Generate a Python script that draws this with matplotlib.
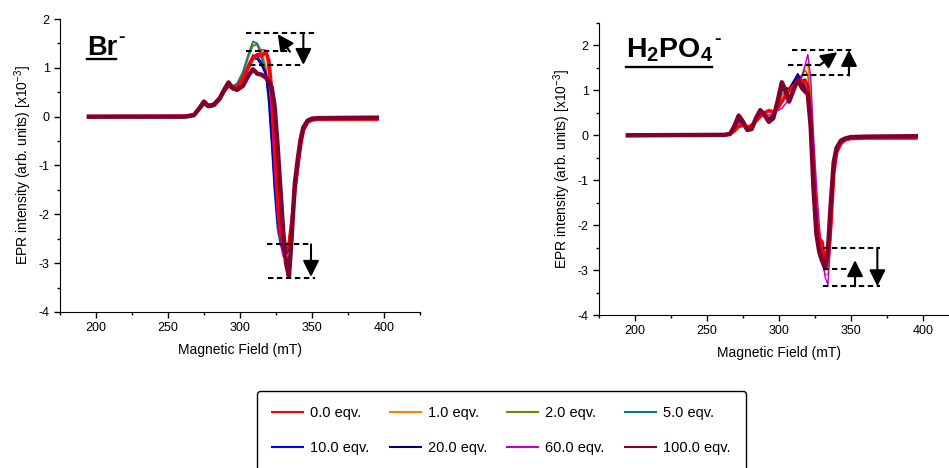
import matplotlib
matplotlib.use("Agg")
import matplotlib.pyplot as plt
from matplotlib.lines import Line2D
from matplotlib.ticker import MultipleLocator

plt.rcParams['font.family'] = ['Liberation Sans', 'DejaVu Sans']
plt.rcParams['mathtext.fontset'] = 'custom'
plt.rcParams['mathtext.rm'] = 'Liberation Sans'
plt.rcParams['mathtext.bf'] = 'Liberation Sans:bold'
plt.rcParams['axes.unicode_minus'] = False

# magnetic field grids (mT)
field_br = [195, 262, 268, 272, 275, 278, 282, 286, 289, 292, 295, 298, 302, 306, 309, 312, 315, 318,
            320, 322, 324, 326, 328, 330, 332, 334, 336, 338, 340, 342, 344, 347, 350, 355, 395]
field_h = [195, 262, 266, 269, 272, 275, 278, 281, 284, 287, 290, 293, 296, 299, 302, 305, 307, 310, 313,
           316, 318, 320, 322, 324, 326, 328, 330, 332, 334, 336, 338, 340, 343, 346, 350, 360, 395]

labels = ['0.0 eqv.', '1.0 eqv.', '2.0 eqv.', '5.0 eqv.', '10.0 eqv.', '20.0 eqv.', '60.0 eqv.', '100.0 eqv.']
colors = ['#ff0000', '#ff8000', '#808000', '#008080', '#0000ff', '#000080', '#c000c0', '#800030']

# EPR intensity x10^-3, Br- titration
br_0 = [0, 0.01, 0.04, 0.17, 0.27, 0.21, 0.23, 0.36, 0.52, 0.63, 0.58, 0.60, 0.78, 1.02, 1.20, 1.27, 1.24, 1.33,
        1.15, 0.55, -0.40, -1.45, -2.25, -2.60, -2.75, -2.62, -2.15, -1.55, -1.05, -0.60, -0.28, -0.11, -0.07, -0.05, -0.05]
br_1 = [0, 0.01, 0.04, 0.19, 0.28, 0.20, 0.23, 0.38, 0.55, 0.65, 0.60, 0.64, 0.85, 1.22, 1.47, 1.50, 1.35, 1.02,
        0.55, -0.25, -1.20, -2.05, -2.55, -2.78, -2.85, -2.60, -2.05, -1.45, -0.95, -0.52, -0.24, -0.09, -0.05, -0.04, -0.04]
br_2 = [0, 0.01, 0.04, 0.19, 0.28, 0.20, 0.24, 0.39, 0.56, 0.66, 0.61, 0.66, 0.88, 1.25, 1.45, 1.47, 1.28, 0.95,
        0.45, -0.35, -1.35, -2.15, -2.58, -2.75, -2.80, -2.62, -2.10, -1.48, -0.98, -0.54, -0.25, -0.09, -0.05, -0.04, -0.04]
br_5 = [0, 0.01, 0.04, 0.19, 0.28, 0.20, 0.24, 0.40, 0.58, 0.68, 0.63, 0.68, 0.92, 1.30, 1.54, 1.50, 1.20, 0.85,
        0.25, -0.60, -1.55, -2.30, -2.62, -2.72, -2.74, -2.66, -2.15, -1.50, -1.00, -0.55, -0.25, -0.09, -0.05, -0.04, -0.04]
br_10 = [0, 0.01, 0.04, 0.18, 0.27, 0.19, 0.22, 0.36, 0.53, 0.63, 0.58, 0.62, 0.80, 1.08, 1.26, 1.24, 1.10, 0.90,
         0.35, -0.50, -1.45, -2.15, -2.52, -2.66, -2.74, -2.70, -2.20, -1.55, -1.02, -0.56, -0.25, -0.09, -0.05, -0.04, -0.04]
br_20 = [0, 0.01, 0.04, 0.18, 0.27, 0.19, 0.22, 0.36, 0.52, 0.62, 0.57, 0.60, 0.77, 1.03, 1.19, 1.18, 1.05, 0.85,
         0.40, -0.40, -1.35, -2.10, -2.55, -2.75, -2.82, -2.72, -2.18, -1.52, -1.00, -0.55, -0.25, -0.09, -0.05, -0.04, -0.04]
br_60 = [0, 0.01, 0.04, 0.17, 0.26, 0.19, 0.22, 0.35, 0.52, 0.62, 0.57, 0.60, 0.76, 0.98, 1.16, 1.25, 1.37, 1.36,
         0.85, -0.05, -1.15, -2.05, -2.60, -2.87, -2.80, -2.52, -2.00, -1.42, -0.95, -0.52, -0.24, -0.09, -0.05, -0.04, -0.04]
br_100 = [0, 0.0, 0.03, 0.18, 0.31, 0.22, 0.25, 0.38, 0.55, 0.70, 0.58, 0.55, 0.63, 0.85, 0.97, 0.88, 0.86, 0.80,
          0.72, 0.60, 0.22, -0.55, -1.45, -2.35, -3.00, -3.27, -2.40, -1.40, -0.90, -0.48, -0.22, -0.08, -0.04, -0.03, -0.02]

# EPR intensity x10^-3, H2PO4- titration
h_0 = [0, 0.01, 0.03, 0.10, 0.20, 0.22, 0.18, 0.22, 0.32, 0.42, 0.50, 0.55, 0.52, 0.60, 0.75, 0.90, 1.00, 1.10, 1.18,
       1.20, 1.23, 1.10, 0.40, -0.80, -1.90, -2.30, -2.38, -2.85, -2.80, -2.00, -0.85, -0.38, -0.18, -0.10, -0.07, -0.06, -0.06]
h_1 = [0, 0.01, 0.03, 0.14, 0.28, 0.24, 0.15, 0.18, 0.32, 0.46, 0.45, 0.42, 0.48, 0.65, 0.85, 0.95, 1.00, 1.10, 1.25,
       1.35, 1.52, 1.60, 0.95, -0.35, -1.50, -2.30, -2.80, -3.10, -3.10, -2.10, -0.80, -0.35, -0.15, -0.08, -0.05, -0.04, -0.03]
h_2 = [0, 0.01, 0.03, 0.15, 0.30, 0.24, 0.14, 0.17, 0.33, 0.47, 0.45, 0.40, 0.47, 0.68, 0.90, 1.00, 1.02, 1.12, 1.28,
       1.32, 1.45, 1.35, 0.70, -0.60, -1.70, -2.40, -2.80, -3.00, -2.90, -1.90, -0.75, -0.33, -0.15, -0.08, -0.05, -0.04, -0.03]
h_5 = [0, 0.01, 0.03, 0.16, 0.32, 0.25, 0.13, 0.16, 0.34, 0.48, 0.44, 0.37, 0.45, 0.72, 0.98, 1.05, 1.05, 1.18, 1.32,
       1.22, 1.10, 0.95, 0.30, -0.95, -2.00, -2.55, -2.80, -2.90, -2.70, -1.75, -0.70, -0.31, -0.14, -0.08, -0.05, -0.04, -0.03]
h_10 = [0, 0.01, 0.03, 0.17, 0.34, 0.25, 0.13, 0.15, 0.35, 0.50, 0.44, 0.36, 0.45, 0.72, 1.00, 1.05, 1.03, 1.18, 1.37,
        1.22, 1.05, 0.90, 0.15, -1.15, -2.15, -2.62, -2.85, -2.92, -2.65, -1.65, -0.65, -0.30, -0.13, -0.07, -0.04, -0.03, -0.03]
h_20 = [0, 0.01, 0.03, 0.17, 0.36, 0.26, 0.12, 0.15, 0.36, 0.52, 0.44, 0.34, 0.43, 0.72, 1.02, 1.05, 1.02, 1.20, 1.35,
        1.15, 1.02, 0.90, 0.15, -1.15, -2.15, -2.62, -2.85, -2.95, -2.65, -1.65, -0.65, -0.30, -0.13, -0.07, -0.04, -0.03, -0.03]
h_60 = [0, 0.01, 0.03, 0.14, 0.27, 0.23, 0.16, 0.19, 0.33, 0.46, 0.47, 0.45, 0.48, 0.55, 0.60, 0.72, 0.85, 1.00, 1.15,
        1.30, 1.55, 1.80, 1.30, 0.00, -1.10, -2.00, -2.70, -3.15, -3.33, -2.30, -0.85, -0.36, -0.15, -0.08, -0.05, -0.04, -0.03]
h_100 = [0, 0.01, 0.03, 0.20, 0.44, 0.30, 0.12, 0.14, 0.38, 0.56, 0.45, 0.30, 0.38, 0.75, 1.18, 0.95, 0.75, 1.00, 1.24,
         1.05, 0.98, 0.92, 0.20, -1.20, -2.20, -2.60, -2.80, -2.95, -2.55, -1.50, -0.60, -0.28, -0.12, -0.07, -0.04, -0.03, -0.02]

br_curves = [br_0, br_1, br_2, br_5, br_10, br_20, br_60, br_100]
h_curves = [h_0, h_1, h_2, h_5, h_10, h_20, h_60, h_100]
widths = [2.6, 1.2, 1.2, 1.2, 1.2, 1.2, 1.0, 3.2]
order = [1, 2, 3, 4, 5, 6, 0, 7]

fig = plt.figure(figsize=(9.49, 4.68), dpi=100)
ax1 = fig.add_axes([60/949, 1-312/468, 360/949, 293/468])
ax2 = fig.add_axes([599/949, 1-315/468, 360/949, 292/468])


def style(ax, ytop):
    ax.set_xlim(175, 425)
    ax.set_ylim(-4, ytop)
    ax.spines['top'].set_visible(False)
    ax.spines['right'].set_visible(False)
    ax.xaxis.set_major_locator(MultipleLocator(50))
    ax.xaxis.set_minor_locator(MultipleLocator(25))
    ax.yaxis.set_major_locator(MultipleLocator(1))
    ax.yaxis.set_minor_locator(MultipleLocator(0.5))
    ax.tick_params(which='major', direction='out', length=4, width=1, labelsize=9)
    ax.tick_params(which='minor', direction='out', length=2.5, width=1)
    ax.set_xticks([200, 250, 300, 350, 400])
    ax.set_xlabel('Magnetic Field (mT)', fontsize=10, labelpad=6)
    ax.set_ylabel('EPR intensity (arb. units) [x10$^{-3}$]', fontsize=10, labelpad=3)


for ax, fld, curves in [(ax1, field_br, br_curves), (ax2, field_h, h_curves)]:
    for i in order:
        ax.plot(fld, curves[i], color=colors[i], lw=widths[i], solid_joinstyle='round')

style(ax1, 2)
style(ax2, 2.5)


def dash(ax, x0, x1, y):
    ax.plot([x0, x1], [y, y], color='k', lw=1.5, dashes=(2.6, 1.7))


def arrow(ax, tail, head):
    ax.annotate('', xy=head, xytext=tail,
                arrowprops=dict(arrowstyle='-|>,head_length=0.7,head_width=0.35', color='k', lw=1.5,
                                mutation_scale=14, shrinkA=0, shrinkB=0))


# Br- markers
dash(ax1, 304, 353, 1.707)
dash(ax1, 304, 333, 1.344)
dash(ax1, 307, 344, 1.057)
arrow(ax1, (344, 1.707), (344, 1.06))
arrow(ax1, (334.7, 1.33), (326.2, 1.69))
dash(ax1, 318.5, 350, -2.617)
dash(ax1, 319.5, 352, -3.30)
arrow(ax1, (349.3, -2.617), (349.3, -3.28))

# H2PO4- markers
dash(ax2, 308.8, 350.5, 1.90)
dash(ax2, 306, 328, 1.556)
dash(ax2, 315.7, 349, 1.333)
ax2.plot([348.6, 348.6], [1.333, 1.5], color='k', lw=1.5)
arrow(ax2, (348.6, 1.333), (348.6, 1.90))
arrow(ax2, (328, 1.556), (340.5, 1.85))
dash(ax2, 330.8, 370, -2.504)
dash(ax2, 330.8, 347, -2.98)
dash(ax2, 330.8, 370, -3.36)
arrow(ax2, (352.8, -3.36), (352.8, -2.78))
arrow(ax2, (368.3, -2.504), (368.3, -3.36))

# underlined titles
fig.canvas.draw()
r = fig.canvas.get_renderer()


def title(x, y, s, size, uline):
    t = fig.text(x/949, 1-y/468, s, fontsize=size, fontweight='bold', va='baseline')
    bb = t.get_window_extent(renderer=r)
    yl = (468 - uline)/468
    fig.add_artist(Line2D([bb.x0/949, (bb.x1 - 1)/949], [yl, yl], color='k', lw=1.7, transform=fig.transFigure))
    fig.text((bb.x1 + 1)/949, (468 - y + 17)/468, '-', fontsize=14, fontweight='bold', va='center')


title(87, 55, 'Br', 19.5, 59)
title(626, 57, r'$\mathbf{H_2PO_4}$', 20.5, 67)

handles = [Line2D([0], [0], color=c, lw=1.5) for c in colors]
idx = [0, 4, 1, 5, 2, 6, 3, 7]
fig.legend([handles[i] for i in idx], [labels[i] for i in idx], loc='upper left',
           bbox_to_anchor=(257/949, 1-391/468), ncol=4, fontsize=10.5, frameon=True, fancybox=True,
           edgecolor='black', framealpha=1, handlelength=2.1, handletextpad=0.5, columnspacing=1.4,
           labelspacing=1.45, borderpad=1.05, borderaxespad=0)

fig.savefig('out.png', dpi=100)
